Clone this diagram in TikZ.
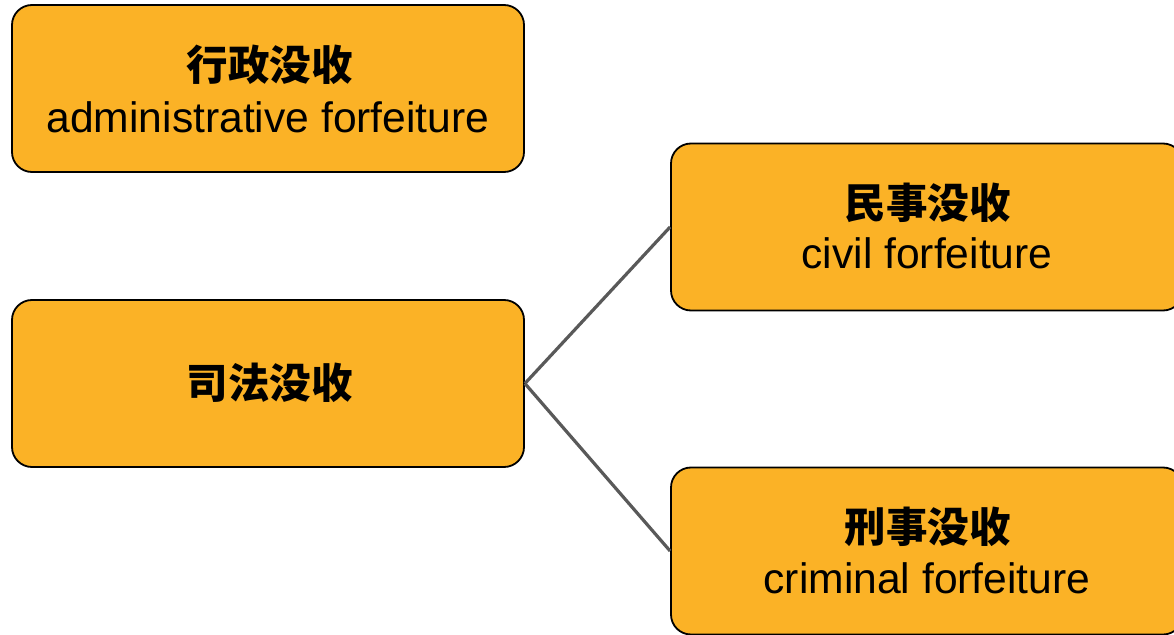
\documentclass[tikz,border=0pt]{standalone}
\usepackage{fontspec}
\setmainfont{Liberation Sans}
\newfontfamily\cjk{Noto Sans CJK SC}
\definecolor{boxfill}{HTML}{FBB226}
\definecolor{linegray}{HTML}{595959}
\begin{document}
\begin{tikzpicture}[x=1bp,y=-1bp,
  box/.style={draw=black, line width=1.8bp, fill=boxfill, rounded corners=20bp,
    minimum width=512bp, minimum height=167bp, inner sep=0pt, align=center},
  cn/.style={font=\cjk\bfseries\fontsize{41.5bp}{45bp}\selectfont},
  en/.style={font=\fontsize{42.6bp}{50bp}\selectfont},
  conn/.style={draw=linegray, line width=3.2bp}]
\useasboundingbox (0,0) rectangle (1174,635);
\node[box] (adm) at (268,88.5) {};
\node[box] (jud) at (268,383.5) {};
\node[box] (civ) at (927,227) {};
\node[box] (cri) at (927,551) {};
\node[cn] (admcn) at (269.5,65) {行政没收};
\node[en] (admen) at (268,117) {administrative forfeiture};
\node[cn] (judcn) at (269.5,383) {司法没收};
\node[cn] (civcn) at (927.5,203) {民事没收};
\node[en] (civen) at (927,253) {civil forfeiture};
\node[cn] (cricn) at (927.5,527) {刑事没收};
\node[en] (crien) at (927,578) {criminal forfeiture};
\draw[conn] (jud.east) -- (civ.west);
\draw[conn] (jud.east) -- (cri.west);
\end{tikzpicture}
\end{document}
